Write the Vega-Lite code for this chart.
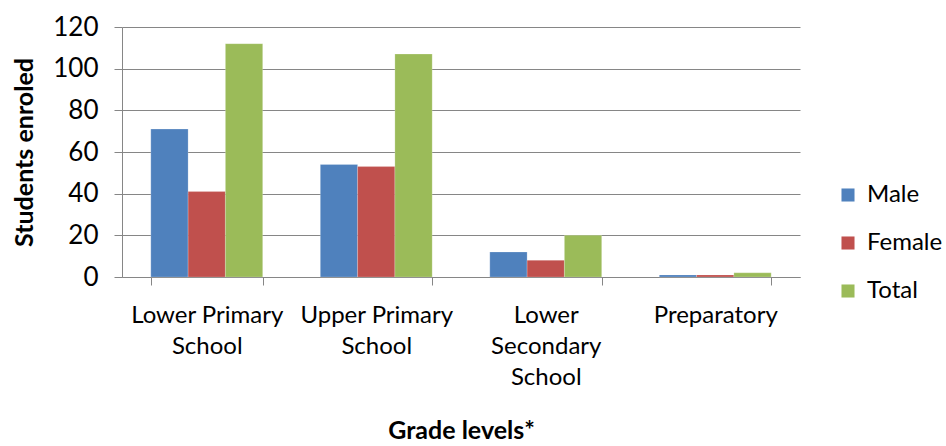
{
  "$schema": "https://vega.github.io/schema/vega-lite/v6.json",
  "width": 678,
  "height": 250,
  "autosize": {"type": "none"},
  "padding": {"left": 122, "top": 27, "right": 146, "bottom": 169},
  "background": "white",
  "config": {
    "font": "Lato",
    "view": {"stroke": null}
  },
  "data": {
    "values": [
      {"grade": "Lower Primary School", "sex": "Male", "students": 71},
      {"grade": "Lower Primary School", "sex": "Female", "students": 41},
      {"grade": "Lower Primary School", "sex": "Total", "students": 112},
      {"grade": "Upper Primary School", "sex": "Male", "students": 54},
      {"grade": "Upper Primary School", "sex": "Female", "students": 53},
      {"grade": "Upper Primary School", "sex": "Total", "students": 107},
      {"grade": "Lower Secondary School", "sex": "Male", "students": 12},
      {"grade": "Lower Secondary School", "sex": "Female", "students": 8},
      {"grade": "Lower Secondary School", "sex": "Total", "students": 20},
      {"grade": "Preparatory", "sex": "Male", "students": 1},
      {"grade": "Preparatory", "sex": "Female", "students": 1},
      {"grade": "Preparatory", "sex": "Total", "students": 2}
    ]
  },
  "mark": {"type": "bar", "stroke": "white", "strokeOpacity": 0.4, "strokeWidth": 0.5},
  "encoding": {
    "x": {
      "field": "grade",
      "type": "nominal",
      "sort": ["Lower Primary School", "Upper Primary School", "Lower Secondary School", "Preparatory"],
      "scale": {"paddingInner": 0.34, "paddingOuter": 0.17},
      "axis": {
        "title": "Grade levels*",
        "titleFont": "Lato",
        "titleFontSize": 25,
        "titleFontWeight": "bold",
        "titleColor": "#000000",
        "titleBaseline": "alphabetic",
        "titleY": 161,
        "labelAngle": 0,
        "labelFontSize": 24,
        "labelColor": "#000000",
        "labelLineHeight": 31,
        "labelBaseline": "top",
        "labelPadding": 18,
        "labelExpr": "datum.label == 'Lower Primary School' ? ['Lower Primary', 'School'] : datum.label == 'Upper Primary School' ? ['Upper Primary', 'School'] : datum.label == 'Lower Secondary School' ? ['Lower', 'Secondary', 'School'] : datum.label",
        "tickBand": "extent",
        "tickSize": 8,
        "tickColor": "#868686",
        "domainColor": "#868686",
        "grid": false
      }
    },
    "xOffset": {
      "field": "sex",
      "type": "nominal",
      "sort": ["Male", "Female", "Total"],
      "scale": {"paddingInner": 0, "paddingOuter": 0}
    },
    "y": {
      "field": "students",
      "type": "quantitative",
      "scale": {"domain": [0, 120], "nice": false},
      "axis": {
        "title": "Students enroled",
        "titleFont": "Lato",
        "titleFontSize": 25,
        "titleFontWeight": "bold",
        "titleColor": "#000000",
        "titlePadding": 15,
        "values": [0, 20, 40, 60, 80, 100, 120],
        "labelFontSize": 26,
        "labelColor": "#000000",
        "labelPadding": 16,
        "tickSize": 8,
        "tickColor": "#868686",
        "domainColor": "#868686",
        "gridColor": "#868686",
        "gridWidth": 1
      }
    },
    "color": {
      "field": "sex",
      "type": "nominal",
      "sort": ["Male", "Female", "Total"],
      "scale": {"domain": ["Male", "Female", "Total"], "range": ["#4F81BD", "#C0504D", "#9BBB59"]},
      "legend": {
        "title": null,
        "orient": "none",
        "legendX": 714,
        "legendY": 156,
        "symbolType": "square",
        "symbolSize": 170,
        "symbolStrokeWidth": 0,
        "labelFontSize": 24,
        "labelColor": "#000000",
        "labelOffset": 7,
        "rowPadding": 24
      }
    }
  }
}
